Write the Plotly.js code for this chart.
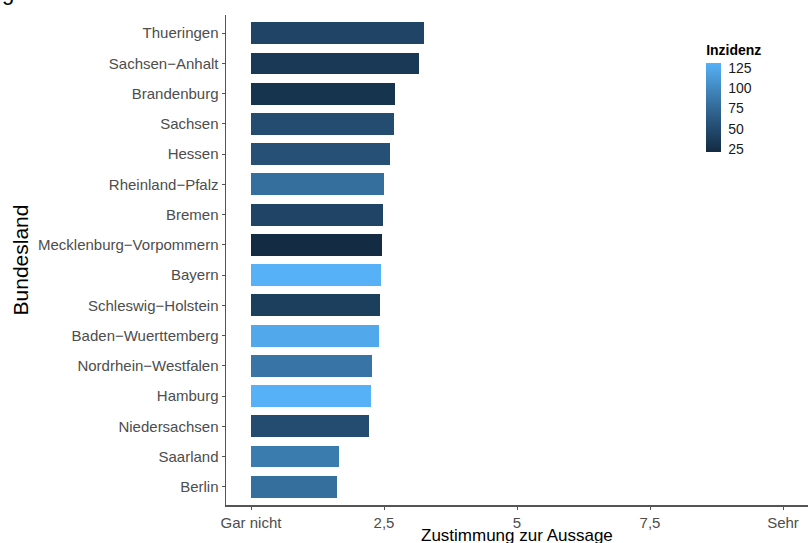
<!DOCTYPE html>
<html>
<head>
<meta charset="utf-8">
<script src="https://cdn.plot.ly/plotly-3.0.1.min.js"></script>
<style>html,body{margin:0;padding:0;background:#fff;}#chart{width:811px;height:543px;}</style>
</head>
<body>
<div id="chart"></div>
<script>
// Top-to-bottom order as displayed
const states = ["Thueringen","Sachsen\u2212Anhalt","Brandenburg","Sachsen","Hessen","Rheinland\u2212Pfalz","Bremen","Mecklenburg\u2212Vorpommern","Bayern","Schleswig\u2212Holstein","Baden\u2212Wuerttemberg","Nordrhein\u2212Westfalen","Hamburg","Niedersachsen","Saarland","Berlin"];
const zustimmung = [3.26,3.16,2.71,2.68,2.61,2.50,2.48,2.47,2.45,2.43,2.40,2.28,2.26,2.22,1.66,1.61];
const inzidenz = [45,35,30,52,55,80,45,22,131,40,124,84,131,52,90,80];
const xTickVals = [0,2.5,5,7.5,10];
const xTickText = ["Gar nicht","2,5","5","7,5","Sehr"];
const legendTicks = [25,50,75,100,125];

const gg = [[0,"#132B43"],[0.25,"#22496C"],[0.5,"#336A98"],[0.75,"#448EC6"],[1,"#56B1F7"]];

const trace = {
  type: "bar",
  orientation: "h",
  x: zustimmung,
  y: states,
  width: 0.72,
  marker: {
    color: inzidenz,
    colorscale: gg,
    cmin: 22, cmax: 131,
    line: {width: 0},
    colorbar: {
      title: {text: "<b>Inzidenz</b>", side: "top", font: {family: "Liberation Sans, Arial, sans-serif", size: 14, color: "#000"}},
      thickness: 15,
      len: 110, lenmode: "pixels",
      x: 0.825, xanchor: "left", xref: "paper",
      y: 0.833, yanchor: "middle",
      xpad: 0, ypad: 0,
      outlinewidth: 0,
      tickvals: legendTicks,
      ticks: "outside", ticklen: 5, tickcolor: "rgba(0,0,0,0)",
      tickfont: {family: "Liberation Sans, Arial, sans-serif", size: 14, color: "#1a1a1a"}
    }
  },
  hoverinfo: "x+y"
};

const layout = {
  width: 811, height: 543,
  margin: {l: 226, r: 3, t: 15, b: 38},
  paper_bgcolor: "#fff", plot_bgcolor: "#fff",
  showlegend: false,
  bargap: 0,
  font: {family: "Liberation Sans, Arial, sans-serif"},
  xaxis: {
    range: [-0.47, 10.47],
    tickvals: xTickVals, ticktext: xTickText,
    showgrid: false, zeroline: false,
    showline: true, linecolor: "#555", linewidth: 1.5,
    ticks: "outside", ticklen: 3, tickcolor: "#555",
    tickfont: {size: 15, color: "#4d4d4d"}
  },
  yaxis: {
    type: "category",
    categoryorder: "array", categoryarray: states,
    range: [states.length - 0.4, -0.6],
    showgrid: false, zeroline: false,
    showline: true, linecolor: "#555", linewidth: 1.5,
    ticks: "outside", ticklen: 3, tickcolor: "#555",
    tickfont: {size: 15, color: "#4d4d4d"},
    title: {text: "Bundesland", font: {size: 21, color: "#000"}, standoff: 3}
  },
  annotations: [{
    text: "g in", xref: "paper", yref: "paper",
    x: -226/582, xanchor: "left",
    y: 1 + 23/490, yanchor: "middle",
    showarrow: false,
    font: {size: 22, color: "#000"}
  }, {
    text: "Zustimmung zur Aussage", xref: "paper", yref: "paper",
    x: 0.5, xanchor: "center",
    y: -30/490, yanchor: "middle",
    showarrow: false,
    font: {size: 17, color: "#000"}
  }]
};

Plotly.newPlot("chart", [trace], layout, {displayModeBar: false, staticPlot: true});
</script>
</body>
</html>
